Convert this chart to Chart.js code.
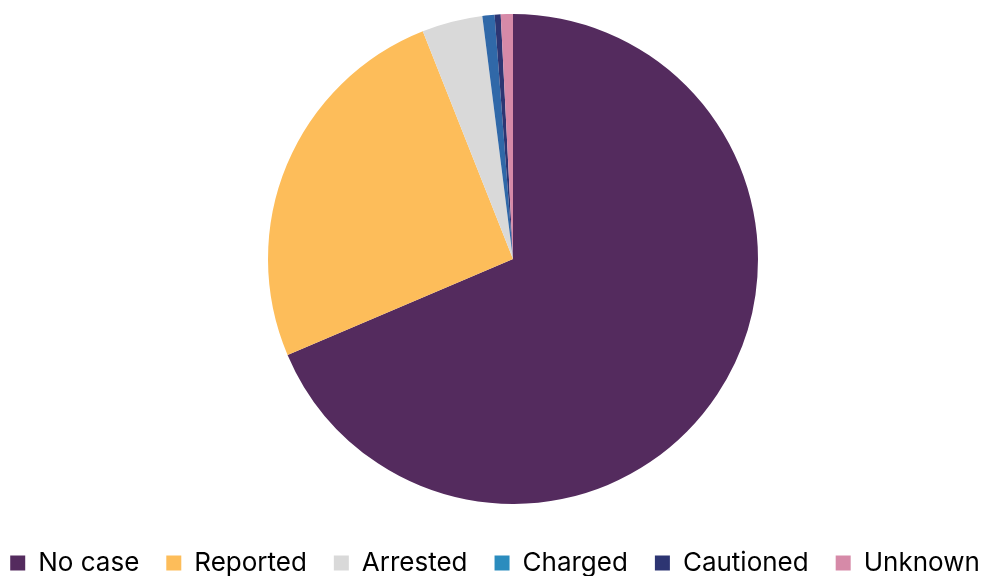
<!DOCTYPE html>
<html>
<head>
<meta charset="utf-8">
<script src="https://cdn.jsdelivr.net/npm/chart.js@4/dist/chart.umd.min.js"></script>
<style>
  html, body { margin: 0; padding: 0; background: #fff; overflow: hidden; }
  #wrap { position: absolute; left: -35px; top: 0; width: 1060px; height: 586px; }
</style>
</head>
<body>
<div id="wrap"><canvas id="pie"></canvas></div>
<script>
const categories = ['No case', 'Reported', 'Arrested', 'Charged', 'Cautioned', 'Unknown']
const counts = [686, 254, 40, 8, 4, 8]
const sliceColors = ['#542b5e', '#fdbd5a', '#d9d9d9', '#3068a8', '#2d3572', '#d68aa8']
const legendColors = ['#542b5e', '#fdbd5a', '#d9d9d9', '#2b8cbe', '#2d3572', '#d68aa8']

// keep the pie at a fixed spot, independent of the legend box
const pieFrame = {
    id: 'pieFrame',
    afterLayout: (chart) => {
        const cx = 548, cy = 259, r = 245
        chart.chartArea = {
            left: cx - r, right: cx + r, top: cy - r, bottom: cy + r,
            width: r * 2, height: r * 2
        }
    }
}

const ctx = document.getElementById('pie').getContext('2d')
new Chart(ctx, {
    type: 'pie',
    data: {
        labels: categories,
        datasets: [{
            data: counts,
            backgroundColor: sliceColors,
            borderWidth: 0
        }]
    },
    options: {
        responsive: true,
        maintainAspectRatio: false,
        animation: false,
        layout: { padding: 0 },
        plugins: {
            tooltip: { enabled: false },
            legend: {
                display: true,
                position: 'bottom',
                labels: {
                    boxWidth: 15,
                    boxHeight: 15,
                    padding: 27,
                    color: '#000',
                    font: { family: 'Inter', size: 26 },
                    generateLabels: (chart) =>
                        Chart.overrides.pie.plugins.legend.labels.generateLabels(chart)
                            .map((item, i) => Object.assign(item, {
                                fillStyle: legendColors[i],
                                strokeStyle: legendColors[i],
                                lineWidth: 0
                            }))
                }
            }
        }
    },
    plugins: [pieFrame]
})
</script>
</body>
</html>
